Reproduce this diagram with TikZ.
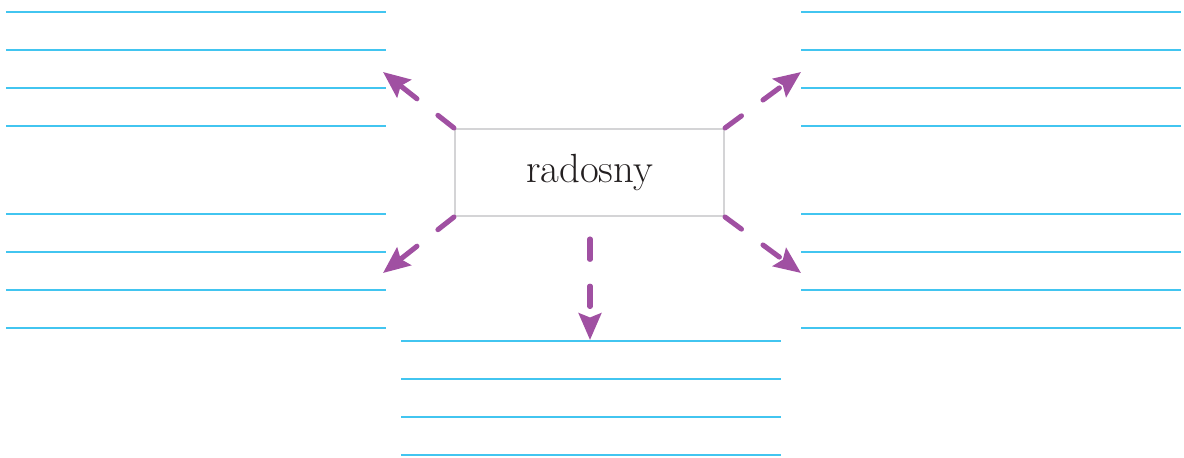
\documentclass[tikz,border=0pt]{standalone}
\usetikzlibrary{arrows.meta}
\definecolor{lineblue}{RGB}{66,197,240}
\definecolor{arrowpurple}{RGB}{160,80,162}
\definecolor{boxgrey}{RGB}{212,212,214}
\definecolor{textdark}{RGB}{35,31,32}
\begin{document}
\begin{tikzpicture}[x=0.025cm,y=-0.025cm]
\tikzstyle{thinline}=[lineblue,line width=1.3pt]%
\tikzstyle{thickline}=[lineblue,line width=2.1pt]%
\tikzstyle{pointer}=[arrowpurple,line width=3.6pt,line cap=round,dash pattern=on 14.5pt off 19pt,-{Stealth[length=19pt,width=16pt,inset=3pt]}]%
\useasboundingbox (0,0) rectangle (1184,458);
% writing lines
\foreach \x/\y in {6/12,6/214,801/12,801/214,401/341} {
\draw[thinline](\x,\y)--++(380,0);
\draw[thickline](\x,\y+38)--++(380,0);
\draw[thickline](\x,\y+76)--++(380,0);
\draw[thinline](\x,\y+114)--++(380,0);}
% word box
\node[draw=boxgrey,line width=1.6pt,minimum width=6.72cm,minimum height=2.17cm,text=textdark,font=\fontsize{29}{33}\selectfont] (word) at (589.5,172.5) {radosny};
% arrow ends
\coordinate (tl) at (383,72);
\coordinate (tr) at (801,72);
\coordinate (bl) at (383,273);
\coordinate (br) at (801,273);
\coordinate (downstart) at (590,239);
\coordinate (downend) at (590,340);
% arrows
\draw[pointer](word.north west)--(tl);
\draw[pointer](word.north east)--(tr);
\draw[pointer](word.south west)--(bl);
\draw[pointer](word.south east)--(br);
\draw[pointer](downstart)--(downend);
\end{tikzpicture}
\end{document}
